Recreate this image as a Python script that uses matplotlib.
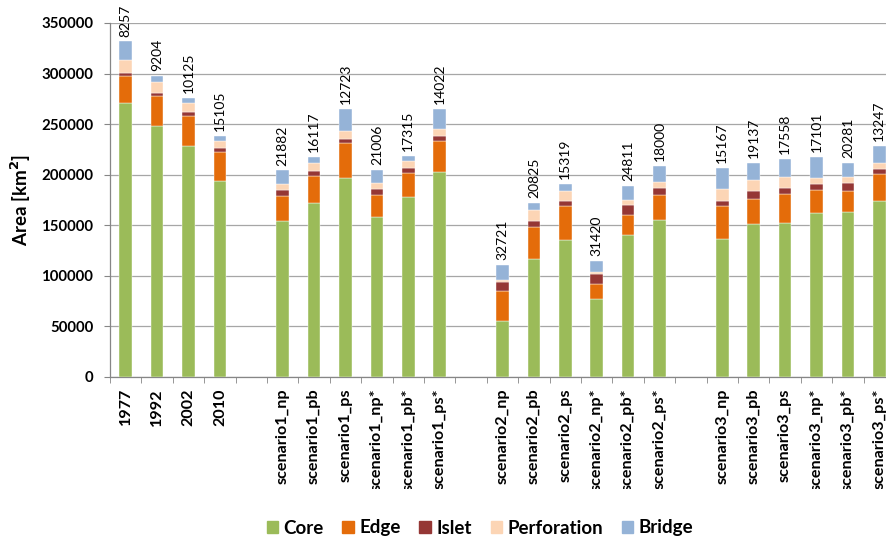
import matplotlib.pyplot as plt
import numpy as np
from matplotlib.patches import Patch
from matplotlib.transforms import Bbox, TransformedBbox

plt.rcParams['font.family'] = ['Lato', 'DejaVu Sans']

# categories, one group per period/scenario set
periods = ['1977', '1992', '2002', '2010']
scen1 = ['scenario1_np', 'scenario1_pb', 'scenario1_ps',
         'scenario1_np*', 'scenario1_pb*', 'scenario1_ps*']
scen2 = ['scenario2_np', 'scenario2_pb', 'scenario2_ps',
         'scenario2_np*', 'scenario2_pb*', 'scenario2_ps*']
scen3 = ['scenario3_np', 'scenario3_pb', 'scenario3_ps',
         'scenario3_np*', 'scenario3_pb*', 'scenario3_ps*']
groups = [periods, scen1, scen2, scen3]

# area per class, km2
core = [271000, 248200, 228400, 193500,
        154200, 172000, 196400, 158200, 178000, 202700,
        55400, 116700, 135100, 77100, 140100, 155600,
        136400, 150900, 152300, 162100, 162800, 174000]
edge = [26500, 29600, 29600, 29000,
        24400, 27000, 34600, 21700, 23700, 30300,
        29600, 31300, 34300, 14800, 20400, 24700,
        33000, 25400, 28600, 22800, 21100, 26400]
islet = [3300, 3000, 3700, 3600,
         6600, 4700, 4600, 6300, 5200, 5000,
         9300, 6200, 4600, 9600, 9600, 6900,
         4900, 7600, 6300, 5900, 7900, 4900]
perforation = [12500, 10500, 9500, 7200,
               5300, 7900, 7300, 5600, 6700, 7200,
               1600, 11200, 9900, 2300, 4900, 5600,
               11900, 10900, 10900, 6300, 5900, 6000]
bridge = [18500, 6300, 5000, 5300,
          13800, 5600, 21800, 12900, 4900, 19500,
          14500, 6600, 7200, 11200, 13800, 15500,
          20400, 17100, 17800, 20100, 14200, 17100]

# numbers written above each bar
bar_labels = [8257, 9204, 10125, 15105,
              21882, 16117, 12723, 21006, 17315, 14022,
              32721, 20825, 15319, 31420, 24811, 18000,
              15167, 19137, 17558, 17101, 20281, 13247]

series = [('Core', core, '#9BBB59'),
          ('Edge', edge, '#E46C0A'),
          ('Islet', islet, '#953735'),
          ('Perforation', perforation, '#FCD5B5'),
          ('Bridge', bridge, '#95B3D7')]

# slot positions, one empty slot between groups
x = []
names = []
pos = 0
for g in groups:
    for name in g:
        x.append(pos)
        names.append(name)
        pos += 1
    pos += 1
x = np.array(x)
n_slots = pos - 1

fig = plt.figure(figsize=(8.87, 5.40), dpi=100)
ax = fig.add_axes([110 / 887, 163 / 540, 785 / 887, 354 / 540])

bottom = np.zeros(len(x))
for label, vals, col in series:
    vals = np.array(vals, dtype=float)
    ax.bar(x, vals, width=0.4, bottom=bottom, color=col,
           edgecolor='white', linewidth=0.3, label=label, zorder=3)
    bottom += vals

for xi, top, lab in zip(x, bottom, bar_labels):
    ax.annotate(str(lab), (xi, top), xytext=(0, 3.5),
                textcoords='offset points', rotation=90,
                ha='center', va='bottom', fontsize=10)

ax.set_xlim(-0.5, n_slots - 0.5)
ax.set_ylim(0, 350000)
ax.set_yticks(np.arange(0, 350001, 50000))
ax.yaxis.grid(True, color='#a6a6a6', linewidth=0.9, zorder=0)
ax.set_axisbelow(True)

ax.set_xticks(x)
ax.set_xticklabels(names, rotation=90, fontweight='bold', fontsize=11.6)
ax.set_xticks(np.arange(-0.5, n_slots, 1), minor=True)
ax.tick_params(axis='x', which='major', length=0, pad=8)
ax.tick_params(axis='x', which='minor', length=4, color='#868686')
ax.tick_params(axis='y', length=4, color='#868686', pad=8)
for t in ax.get_yticklabels():
    t.set_fontweight('bold')
    t.set_fontsize(10.8)

for s in ['top', 'right']:
    ax.spines[s].set_visible(False)
for s in ['left', 'bottom']:
    ax.spines[s].set_color('#868686')
    ax.spines[s].set_linewidth(0.9)

ax.set_ylabel('Area [km$^{\\mathbf{2}}$]', fontweight='bold', fontsize=13.5,
              labelpad=6)

# long category names are cut off above the legend
clip = TransformedBbox(Bbox.from_extents(0, 51 / 540, 1, 1), fig.transFigure)
for t in ax.get_xticklabels():
    t.set_clip_box(clip)
    t.set_clip_on(True)

handles = [Patch(color=col, label=label) for label, _, col in series]
fig.legend(handles=handles, loc='center', ncol=5,
           bbox_to_anchor=(480 / 887, 12 / 540), frameon=False,
           prop={'weight': 'bold', 'size': 13.5},
           handlelength=0.6, handleheight=0.6, handletextpad=0.3,
           columnspacing=1.0)

fig.savefig('out.png', dpi=100)
